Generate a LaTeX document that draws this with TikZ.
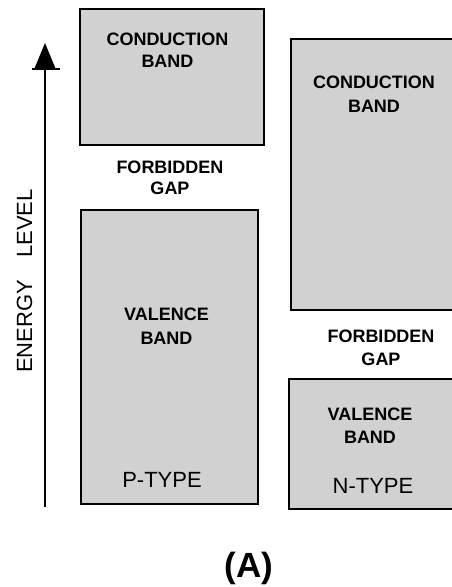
\documentclass[tikz,border=0pt]{standalone}
\usepackage{fontspec}
\setmainfont{Liberation Sans}
\usetikzlibrary{arrows.meta}
\definecolor{bandgray}{RGB}{209,209,209}
\begin{document}
\begin{tikzpicture}[x=1pt,y=-1pt,
  band/.style={draw=black,line width=2pt,fill=bandgray,anchor=north west,inner sep=0pt},
  lbl/.style={font=\bfseries\fontsize{18}{22}\selectfont,anchor=base,inner sep=0pt},
  typ/.style={font=\fontsize{22}{26}\selectfont,anchor=base,inner sep=0pt}]
\useasboundingbox (0,0) rectangle (451,587);
% bands
\node[band,minimum width=184pt,minimum height=136pt] (pcb) at (79,8) {};
\node[band,minimum width=177pt,minimum height=294pt] (pvb) at (80,209) {};
\node[band,minimum width=172pt,minimum height=271pt] (ncb) at (290,38) {};
\node[band,minimum width=174pt,minimum height=130pt] (nvb) at (288,378) {};
% P-type labels
\node[lbl] (pc1) at (167.5,45) {CONDUCTION};
\node[lbl] (pc2) at (167.5,67) {BAND};
\node[lbl] (pf1) at (170,173) {FORBIDDEN};
\node[lbl] (pf2) at (170,194) {GAP};
\node[lbl] (pv1) at (166.5,320) {VALENCE};
\node[lbl] (pv2) at (166.5,344) {BAND};
\node[typ] (pt) at (162,487) {P-TYPE};
% N-type labels
\node[lbl] (nc1) at (374,88) {CONDUCTION};
\node[lbl] (nc2) at (374,112) {BAND};
\node[lbl] (nf1) at (381,342) {FORBIDDEN};
\node[lbl] (nf2) at (381,365) {GAP};
\node[lbl] (nv1) at (370,420) {VALENCE};
\node[lbl] (nv2) at (370,443) {BAND};
\node[typ] (nt) at (373,493) {N-TYPE};
% energy axis
\coordinate (eb) at (45,507);
\coordinate (et) at (45,43);
\coordinate (bar) at (45,69);
\draw[line width=2pt,-{Triangle[width=21pt,length=26pt]}] (eb) -- (et);
\draw[line width=1.2pt] ([xshift=-13pt]bar) -- ([xshift=15pt]bar);
\node[typ,rotate=90] (elab) at (32,281) {ENERGY\hspace{22pt}LEVEL};
% caption
\node[font=\bfseries\fontsize{35}{40}\selectfont,anchor=base,inner sep=0pt] (cap) at (249,577) {(A)};
\end{tikzpicture}
\end{document}
